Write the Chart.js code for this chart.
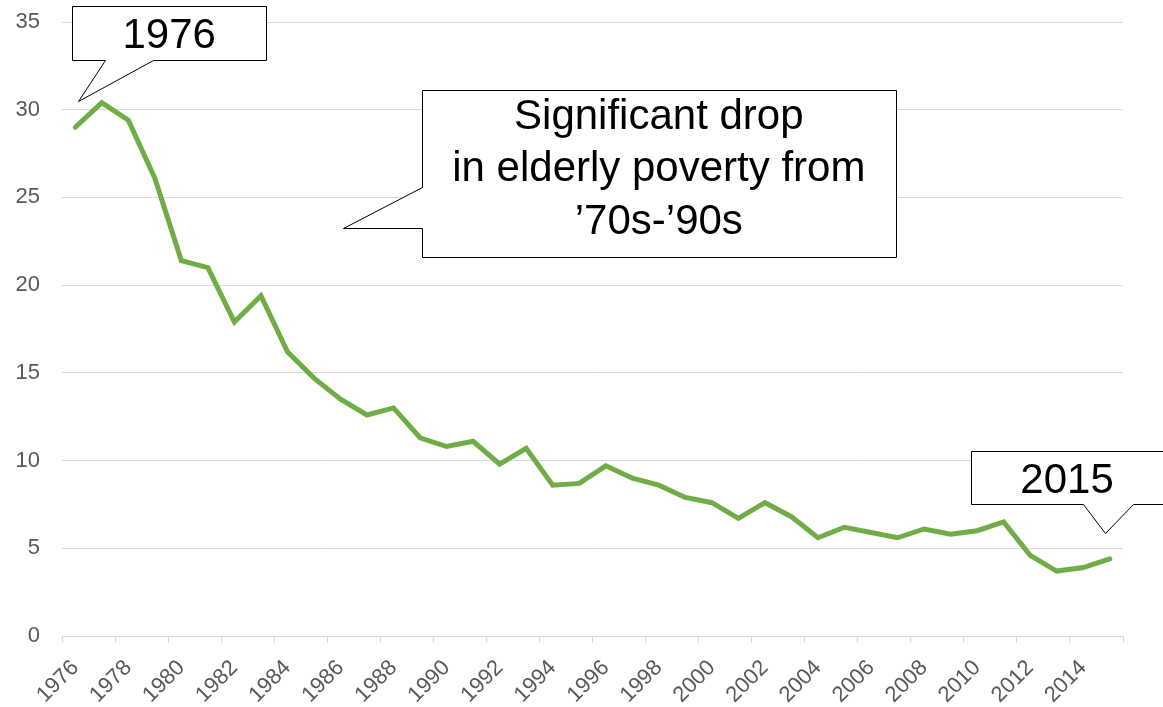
<!DOCTYPE html>
<html>
<head>
<meta charset="utf-8">
<script src="https://cdn.jsdelivr.net/npm/chart.js@4.4.1/dist/chart.umd.min.js"></script>
<style>
    html, body { margin: 0; padding: 0; background: #fff; }
    #wrap { position: relative; width: 1163px; height: 707px; }
</style>
</head>
<body>
<div id="wrap"><canvas id="line-chart"></canvas></div>
<script>
// elderly poverty rate, 1976 - 2015
var years = [
    '1976', '1977', '1978', '1979', '1980', '1981', '1982', '1983', '1984', '1985',
    '1986', '1987', '1988', '1989', '1990', '1991', '1992', '1993', '1994', '1995',
    '1996', '1997', '1998', '1999', '2000', '2001', '2002', '2003', '2004', '2005',
    '2006', '2007', '2008', '2009', '2010', '2011', '2012', '2013', '2014', '2015'
];
var povertyRate = [
    29.0, 30.4, 29.4, 26.1, 21.4, 21.0, 17.9, 19.4, 16.2, 14.7,
    13.5, 12.6, 13.0, 11.3, 10.8, 11.1, 9.8, 10.7, 8.6, 8.7,
    9.7, 9.0, 8.6, 7.9, 7.6, 6.7, 7.6, 6.8, 5.6, 6.2,
    5.9, 5.6, 6.1, 5.8, 6.0, 6.5, 4.6, 3.7, 3.9, 4.4
];
var yMin = 0, yMax = 35, yStep = 5;

// callouts, in (category index, value) units
var callouts = [
    {
        lines: ['1976'], textX: 3.54, baselines: [33.52],
        path: [[-0.12, 35.92], [7.2, 35.92], [7.2, 32.84], [2.93, 32.84], [0.10, 30.50], [1.12, 32.84], [-0.12, 32.84]]
    },
    {
        lines: ['Significant drop', 'in elderly poverty from', '\u201970s-\u201990s'], textX: 22.0, baselines: [28.9, 25.91, 22.92],
        path: [[13.08, 31.13], [30.93, 31.13], [30.93, 21.61], [13.08, 21.61], [13.08, 23.23], [10.10, 23.23], [13.08, 25.57]]
    },
    {
        lines: ['2015'], textX: 37.39, baselines: [8.15],
        path: [[33.76, 10.55], [41.01, 10.55], [41.01, 7.53], [39.88, 7.53], [38.82, 5.87], [37.99, 7.53], [33.76, 7.53]]
    }
];

var calloutPlugin = {
    id: 'callouts',
    afterDraw: function(chart) {
        var ctx = chart.ctx;
        var xs = chart.scales.x, ys = chart.scales.y;
        var px = function(i) { return Math.round(xs.getPixelForValue(i)) + 0.5; };
        var py = function(v) { return Math.round(ys.getPixelForValue(v)) + 0.5; };
        ctx.save();
        callouts.forEach(function(c) {
            ctx.beginPath();
            c.path.forEach(function(p, k) {
                if (k === 0) ctx.moveTo(px(p[0]), py(p[1]));
                else ctx.lineTo(px(p[0]), py(p[1]));
            });
            ctx.closePath();
            ctx.fillStyle = '#ffffff';
            ctx.fill();
            ctx.lineWidth = 1;
            ctx.strokeStyle = '#000000';
            ctx.stroke();
            ctx.fillStyle = '#000000';
            ctx.font = "42px 'Liberation Sans', Arial, sans-serif";
            ctx.textAlign = 'center';
            ctx.textBaseline = 'alphabetic';
            c.lines.forEach(function(t, k) {
                ctx.fillText(t, xs.getPixelForValue(c.textX), ys.getPixelForValue(c.baselines[k]));
            });
        });
        ctx.restore();
    }
};

Chart.defaults.font.family = "'Liberation Sans', Arial, sans-serif";
Chart.defaults.color = '#595959';

var lineChart = new Chart(document.getElementById('line-chart'), {
    type: 'line',
    data: {
        labels: years,
        datasets: [{
            label: 'Elderly poverty rate',
            data: povertyRate,
            borderColor: '#70AD47',
            backgroundColor: '#70AD47',
            borderWidth: 5,
            borderJoinStyle: 'miter',
            borderCapStyle: 'round',
            pointRadius: 0,
            tension: 0,
            fill: false
        }]
    },
    options: {
        responsive: true,
        maintainAspectRatio: false,
        animation: false,
        layout: { padding: { left: 15, top: 22, right: 40, bottom: 0 } },
        plugins: {
            legend: { display: false },
            tooltip: { enabled: false }
        },
        scales: {
            x: {
                offset: true,
                // fixed axis band; the rotated first label may hang left of the plot
                afterFit: function(scale) {
                    scale.paddingLeft = 0;
                    scale.paddingRight = 0;
                    scale.height = 71;
                },
                grid: {
                    offset: true,
                    drawOnChartArea: false,
                    tickLength: 7,
                    tickColor: function(c) {
                        return (c.index === undefined || c.index % 2 === 0) ? '#d9d9d9' : 'rgba(0,0,0,0)';
                    }
                },
                border: { display: true, color: '#d9d9d9', width: 1 },
                ticks: {
                    autoSkip: false,
                    minRotation: 45,
                    maxRotation: 45,
                    padding: 12,
                    font: { size: 22 },
                    color: '#595959',
                    callback: function(val, index) {
                        return index % 2 === 0 ? this.getLabelForValue(val) : '';
                    }
                }
            },
            y: {
                min: yMin,
                max: yMax,
                afterFit: function(scale) {
                    scale.width = 47;
                    scale.paddingTop = 0;
                    scale.paddingBottom = 0;
                },
                grid: { color: '#d9d9d9', lineWidth: 1, drawTicks: false },
                border: { display: false },
                ticks: { stepSize: yStep, padding: 22, font: { size: 22 }, color: '#595959' }
            }
        }
    },
    plugins: [calloutPlugin]
});
</script>
</body>
</html>
